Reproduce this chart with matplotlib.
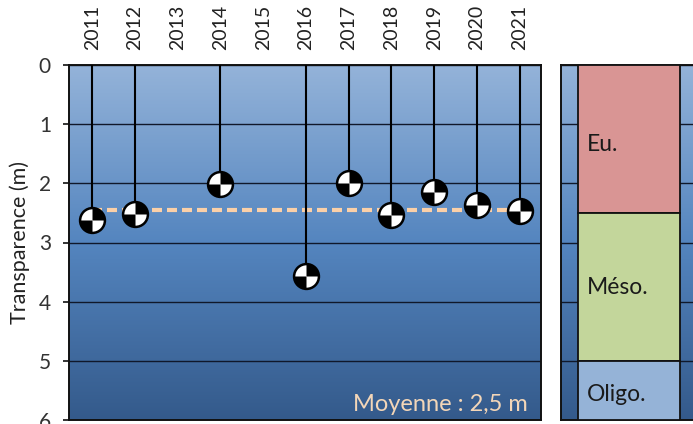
import numpy as np
import matplotlib
matplotlib.use('Agg')
import matplotlib.pyplot as plt
from matplotlib.colors import LinearSegmentedColormap
from matplotlib.path import Path

plt.rcParams['font.family'] = ['Lato', 'DejaVu Sans']

years = [2011, 2012, 2013, 2014, 2015, 2016, 2017, 2018, 2019, 2020, 2021]
transparence = [2.62, 2.52, None, 2.01, None, 3.56, 2.0, 2.53, 2.14, 2.37, 2.47]
moyenne = 2.45
classes = ['Eu.', 'Méso.', 'Oligo.']
class_tops = [0, 2.5, 5]
class_bottoms = [2.5, 5, 6]
class_colors = ['#d99594', '#c3d69b', '#95b3d7']
class_label_y = [1.34, 3.76, 5.57]

W, H = 693, 424
grad = np.linspace(0, 1, 256).reshape(-1, 1)
blues = LinearSegmentedColormap.from_list('eau', [(0, '#94b3d9'), (0.5, '#5485bf'), (1, '#345a8b')])


def make_axes(fig, left, right, top, bottom):
    ax = fig.add_axes([left / W, 1 - bottom / H, (right - left) / W, (bottom - top) / H])
    for s in ax.spines.values():
        s.set_linewidth(1.4)
        s.set_color('#111111')
    return ax


def draw_background(ax, xlim):
    ax.imshow(grad, cmap=blues, aspect='auto', extent=[xlim[0], xlim[1], 6, 0], zorder=0)
    ax.set_xlim(xlim)
    ax.set_ylim(6, 0)
    ax.set_yticks(range(7))
    ax.grid(axis='y', color='#10182a', linewidth=1.0, zorder=1)
    ax.set_axisbelow(True)


fig = plt.figure(figsize=(W / 100, H / 100), dpi=100)

# main panel
ax = make_axes(fig, 69, 541, 65, 420)
draw_background(ax, (-0.545, 10.5))
x = np.arange(len(years))
ax.hlines(moyenne, 0, 10, color='#fbd0a8', linewidth=3.0, linestyles=(0, (2.4, 1.2)), zorder=2)

xs = [i for i, v in zip(x, transparence) if v is not None]
ys = [v for v in transparence if v is not None]
ax.vlines(xs, 0, ys, color='black', linewidth=1.5, zorder=3)
ax.scatter(xs, ys, s=320, color='white', edgecolor='black', linewidth=1.8, zorder=4, clip_on=False)
for t1, t2 in [(0, 90), (180, 270)]:
    ax.scatter(xs, ys, s=320, marker=Path.wedge(t1, t2), color='black', linewidth=0, zorder=5, clip_on=False)

ax.set_xticks(x)
ax.set_xticklabels(years, rotation=90, fontsize=14, color='#222222')
ax.xaxis.tick_top()
ax.tick_params(axis='x', length=0, pad=11)
ax.tick_params(axis='y', length=4, width=1.2, labelsize=15, labelcolor='#333333', color='#111111', pad=9)
ax.set_ylabel('Transparence (m)', fontsize=15.5, color='#222222', labelpad=6)
ax.text(10.18, 5.74, 'Moyenne : 2,5 m', color='#f3d6b8', fontsize=17, ha='right', va='center', zorder=6)

# trophic class panel
ax2 = make_axes(fig, 561, 697, 65, 420)
draw_background(ax2, (0, 136))
ax2.bar([68] * 3, np.array(class_bottoms) - np.array(class_tops), width=102, bottom=class_tops,
        color=class_colors, edgecolor='#111111', linewidth=1.3, zorder=3)
for name, ly in zip(classes, class_label_y):
    ax2.text(26, ly, name, fontsize=16.5, color='#1a1a1a', va='center', zorder=4)
ax2.set_xticks([])
ax2.tick_params(axis='y', length=0, labelleft=False)

fig.savefig('out.png', dpi=100)
